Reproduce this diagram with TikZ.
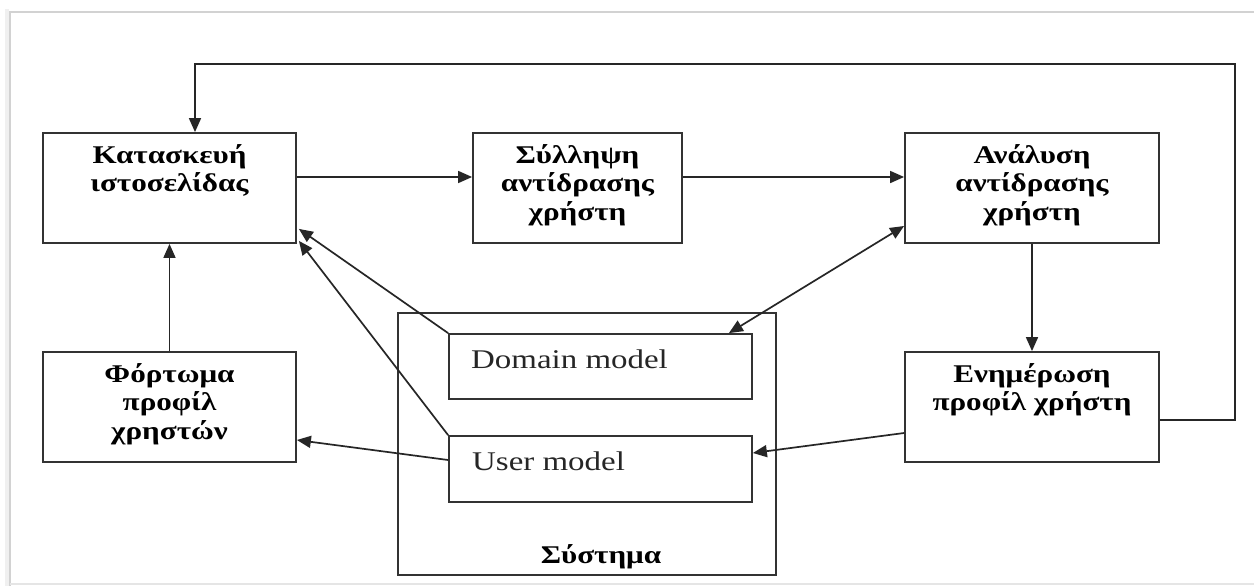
\documentclass[tikz,border=0pt]{standalone}
\usepackage{fontspec}
\setmainfont[FakeStretch=1.22]{Liberation Serif}
\usetikzlibrary{arrows.meta,calc}

\begin{document}
\begin{tikzpicture}[x=1pt,y=-1pt,
  box/.style={draw=black!80, line width=1.8pt, inner sep=0pt},
  ttl/.style={font=\bfseries\fontsize{25.5}{28.5}\selectfont, align=center, anchor=north, inner sep=0pt},
  mdl/.style={font=\fontsize{27}{30}\selectfont, anchor=base west, inner sep=0pt, text=black!85},
  conn/.style={line width=1.7pt, draw=black!85, -{Triangle[length=14pt,width=12pt]}},
]
\useasboundingbox (0,0) rectangle (1254,586);
\fill[white] (0,0) rectangle (1254,586);
% page frame with soft edge
\draw[gray!12, line width=4pt] (7,586) -- (7,9);
\draw[gray!35, line width=1.2pt] (10,586) -- (10,12) -- (1254,12);
\draw[gray!20, line width=1.5pt] (10,584) -- (1254,584);

% process boxes
\node[box, minimum width=253pt, minimum height=110pt] (build) at (169.5,188) {};
\node[box, minimum width=209pt, minimum height=110pt] (capt) at (577.5,188) {};
\node[box, minimum width=254pt, minimum height=110pt] (anal) at (1032,188) {};
\node[box, minimum width=253pt, minimum height=110pt] (load) at (169.5,407) {};
\node[box, minimum width=254pt, minimum height=110pt] (upd) at (1032,407) {};

% system with its two models
\node[box, minimum width=378pt, minimum height=262pt] (sys) at (587,444) {};
\node[box, minimum width=303pt, minimum height=65pt] (dom) at (600.5,366.5) {};
\node[box, minimum width=303pt, minimum height=66pt] (usr) at (600.5,469) {};

% box titles
\node[ttl] (buildtxt) at ($(build.north)+(0,12)$) {Κατασκευή\\ιστοσελίδας};
\node[ttl] (capttxt) at ($(capt.north)+(0,12)$) {Σύλληψη\\αντίδρασης\\χρήστη};
\node[ttl] (analtxt) at ($(anal.north)+(0,12)$) {Ανάλυση\\αντίδρασης\\χρήστη};
\node[ttl] (loadtxt) at ($(load.north)+(0,12)$) {Φόρτωμα\\προφίλ\\χρηστών};
\node[ttl] (updtxt) at ($(upd.north)+(0,12)$) {Ενημέρωση\\προφίλ χρήστη};
\node[mdl] (domtxt) at (471,368) {Domain model};
\node[mdl] (usrtxt) at (472,470) {User model};
\node[font=\bfseries\fontsize{25.5}{28}\selectfont, anchor=base, inner sep=0pt] (systxt) at (601,563) {Σύστημα};

% feedback loop
\coordinate (fbA) at (1235,420);
\coordinate (fbB) at (1235,64);
\coordinate (fbC) at (195,64);
\draw[conn] ($(upd.east)+(0,13)$) -- (fbA) -- (fbB) -- (fbC) -- (fbC |- build.north);

% main flow
\draw[conn] ($(build.east)+(0,-11)$) -- ($(capt.west)+(0,-11)$);
\draw[conn] ($(capt.east)+(0,-11)$) -- ($(anal.west)+(0,-11)$);
\draw[conn] (anal.south) -- (upd.north);
\draw[conn] (load.north) -- (build.south);

% links to the models
\draw[conn] (dom.north west) -- ($(build.south east)+(2,-15)$);
\draw[conn] (usr.north west) -- ($(build.south east)+(2,-3)$);
\draw[conn] ($(usr.west)+(0,-9)$) -- ($(load.east)+(0,33)$);
\draw[conn, {Triangle[length=14pt,width=12pt]}-{Triangle[length=14pt,width=12pt]}] ($(anal.west)+(0,38)$) -- ($(dom.north east)+(-24,0)$);
\draw[conn] ($(upd.west)+(0,26)$) -- ($(usr.east)+(0,-16)$);
\end{tikzpicture}
\end{document}
